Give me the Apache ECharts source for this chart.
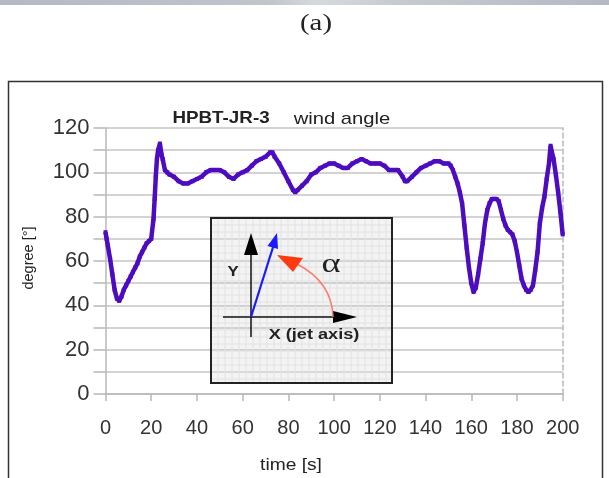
<!DOCTYPE html>
<html>
<head>
<meta charset="utf-8">
<script src="https://cdn.jsdelivr.net/npm/echarts@6/dist/echarts.min.js"></script>
<style>
  html, body { margin: 0; padding: 0; background: #fff; }
  #chart { width: 609px; height: 478px; }
</style>
</head>
<body>
<div id="chart"></div>
<script>
// wind angle record: time [s] and angle [deg]
const times = [
  0, 0.5, 1, 2, 3, 4, 5, 6, 7, 8, 9, 10, 11, 12, 13, 14, 15, 16, 17, 18, 19, 20,
  21, 21.5, 22, 22.5, 23, 23.8, 24.5, 25, 26, 27, 28, 30, 32, 34, 36, 38, 40,
  42, 44, 46, 48, 50, 52, 54, 56, 58, 60, 62, 64, 66, 68, 70, 72, 73, 74, 76,
  78, 80, 82, 83, 84, 86, 88, 90, 92, 94, 96, 98, 100, 102, 104, 106, 108, 110,
  112, 114, 116, 118, 120, 122, 124, 126, 128, 130, 131, 132, 134, 136, 138,
  140, 142, 144, 146, 148, 150, 151, 152, 153, 154, 155, 156, 157, 158, 159,
  160, 161, 162, 163, 164, 165, 166, 167, 168, 169, 170, 171, 172, 173, 174,
  175, 176, 177, 178, 179, 180, 181, 182, 183, 184, 185, 186, 187, 188, 189,
  190, 191, 192, 193, 194, 194.7, 195.3, 196, 197, 198, 199, 200
]
const angles = [
  73, 70, 67, 61, 54, 47, 43, 42, 44, 47, 49, 51, 53, 55, 57, 59, 62, 64, 66, 68, 69, 70,
  79, 88, 98, 106, 110, 113, 108, 106, 101, 100, 99, 98, 96, 95, 95, 96, 97,
  98, 100, 101, 101, 101, 100, 98, 97, 99, 100, 101, 103, 105, 106, 107, 109, 109, 107, 104,
  100, 96, 92, 91, 92, 94, 96, 99, 100, 102, 103, 104, 104, 103, 102, 102, 104, 105,
  106, 105, 104, 104, 104, 103, 101, 101, 101, 98, 96, 96, 98, 100, 102,
  103, 104, 105, 105, 104, 104, 103, 101, 98, 95, 91, 86, 76, 66, 57,
  50, 46, 48, 54, 61, 68, 77, 83, 86, 88, 88, 88, 87, 83, 79,
  76, 74, 73, 72, 69, 64, 58, 52, 49, 47, 46, 47, 49, 56, 64,
  77, 84, 89, 97, 104, 112, 109, 106, 99, 91, 82, 72
]
const xTicks = { min: 0, max: 200, step: 20 }
const yTicks = { min: 0, max: 120, step: 10 }

const points = times.map((t, i) => [t, angles[i]])

// faint grid inside the sketch box
const insetGrid = []
for (let gx = 218; gx < 392; gx += 7) {
  insetGrid.push({ type: 'line', z2: 1, shape: { x1: gx, y1: 219, x2: gx, y2: 382 },
    style: { stroke: '#e2e2e2', lineWidth: 1 } })
}
for (let gy = 225; gy < 383; gy += 7) {
  insetGrid.push({ type: 'line', z2: 1, shape: { x1: 212, y1: gy, x2: 391, y2: gy },
    style: { stroke: '#e2e2e2', lineWidth: 1 } })
}

const labelFont = 'Liberation Sans, Arial'
// the source picture is a little stretched sideways, so the free texts are too
const stretch = 1.2

function label (x, y, text, font, extra) {
  return Object.assign({
    type: 'text', x: x, y: y, scaleX: stretch,
    style: { text: text, fill: '#222', font: font, align: 'center', verticalAlign: 'middle' }
  }, extra || {})
}

const chart = echarts.init(document.getElementById('chart'))
chart.setOption({
  animation: false,
  grid: { left: 105.5, right: 46.3, top: 128, bottom: 84 },
  xAxis: {
    type: 'value',
    min: xTicks.min,
    max: xTicks.max,
    interval: xTicks.step,
    axisLine: { show: true, lineStyle: { color: '#b8b8b8', width: 1.5 } },
    axisTick: { show: true, length: 7, lineStyle: { color: '#b8b8b8', width: 1.5 } },
    axisLabel: { margin: 24, color: '#333', fontSize: 20, fontFamily: labelFont },
    splitLine: { show: false }
  },
  yAxis: [{
    type: 'value',
    min: yTicks.min,
    max: yTicks.max,
    interval: yTicks.step,
    axisLine: { show: true, lineStyle: { color: '#b8b8b8', width: 1.5 } },
    axisTick: { show: true, length: 12, lineStyle: { color: '#b8b8b8', width: 1.5 } },
    axisLabel: {
      margin: 16, color: '#333', fontSize: 22, fontFamily: labelFont,
      formatter: (v) => (v % 20 === 0 ? String(v) : '')
    },
    splitLine: { show: true, lineStyle: { color: '#c4c4c4', width: 1.5 } }
  }, {
    type: 'value',
    position: 'right',
    min: yTicks.min,
    max: yTicks.max,
    interval: yTicks.step,
    axisLine: { show: true, lineStyle: { color: '#b8b8b8', width: 1.5, type: [5, 3] } },
    axisTick: { show: false },
    axisLabel: { show: false },
    splitLine: { show: false }
  }],
  series: [{
    type: 'line',
    data: points,
    showSymbol: true,
    symbol: 'rect',
    symbolSize: 4,
    itemStyle: { color: '#4d0cc0' },
    lineStyle: { color: '#4d0cc0', width: 4.5 },
    z: 3
  }],
  graphic: [
    // grey strip along the top
    { type: 'rect', shape: { x: 0, y: 0, width: 609, height: 5 },
      style: { fill: new echarts.graphic.LinearGradient(0, 0, 1, 0, [
        { offset: 0, color: '#b4b9c2' }, { offset: 0.44, color: '#c0c4cb' },
        { offset: 0.52, color: '#d6d9de' }, { offset: 0.66, color: '#c6cad0' },
        { offset: 1, color: '#b4b9c2' }]) } },
    label(316, 24, '(a)', '24px "Liberation Serif", serif'),
    // frame round the plot
    { type: 'rect', shape: { x: 8.5, y: 81.5, width: 594, height: 400 },
      style: { fill: null, stroke: '#333', lineWidth: 1.5 }, z: -1 },
    label(221, 118, 'HPBT-JR-3', 'bold 16.5px "Liberation Sans", Arial', { scaleX: 1.14 }),
    label(342, 119, 'wind angle', '17px "Liberation Sans", Arial', { scaleX: 1.19 }),
    label(29, 258, 'degree [°]', '14.5px "Liberation Sans", Arial', { rotation: Math.PI / 2, scaleX: 1 }),
    label(291, 466, 'time [s]', '16px "Liberation Sans", Arial'),
    // sketch of the angle definition
    { type: 'group', z: 10, children: [
      { type: 'rect', z2: 0, shape: { x: 211, y: 218, width: 181, height: 165 },
        style: { fill: '#f3f3f3', stroke: null } },
      ...insetGrid,
      { type: 'rect', z2: 2, shape: { x: 211, y: 218, width: 181, height: 165 },
        style: { fill: null, stroke: '#222', lineWidth: 2 } },
      { type: 'line', z2: 5, shape: { x1: 251, y1: 337, x2: 251, y2: 252 }, style: { stroke: '#111', lineWidth: 1.5 } },
      { type: 'polygon', z2: 5, shape: { points: [[244, 255], [258, 255], [251, 233]] }, style: { fill: '#000' } },
      { type: 'line', z2: 5, shape: { x1: 223, y1: 317, x2: 336, y2: 317 }, style: { stroke: '#111', lineWidth: 1.5 } },
      { type: 'polygon', z2: 5, shape: { points: [[333, 311], [333, 323], [357, 317]] }, style: { fill: '#000' } },
      { type: 'line', z2: 5, shape: { x1: 251, y1: 317, x2: 274, y2: 244 }, style: { stroke: '#1a1aff', lineWidth: 2.2 } },
      { type: 'polygon', z2: 5, shape: { points: [[277, 233], [278, 249], [267.5, 246]] }, style: { fill: '#1a1aff' } },
      { type: 'bezierCurve', z2: 5, shape: { x1: 333, y1: 317, cpx1: 332, cpy1: 282, x2: 297, y2: 264 },
        style: { stroke: '#ff7a6a', lineWidth: 1.5, fill: null } },
      { type: 'polygon', z2: 6, shape: { points: [[277, 255], [303, 258], [293, 272]] }, style: { fill: '#ff3a10' } },
      label(331, 265, 'α', '28px "Liberation Serif", serif', { z2: 5, scaleX: 1.3 }),
      label(233, 272, 'Y', 'bold 14px "Liberation Sans", Arial', { z2: 5 }),
      label(314, 335, 'X (jet axis)', 'bold 14.5px "Liberation Sans", Arial', { z2: 5, scaleX: 1.25 })
    ] }
  ]
})
</script>
</body>
</html>
